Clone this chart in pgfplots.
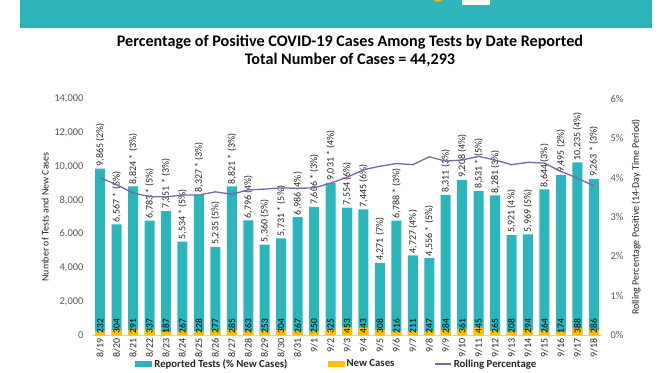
\documentclass[border=0pt]{standalone}
\usepackage{pgfplots}
\pgfplotsset{compat=1.18}
\usepackage{pgfplotstable}
\usepackage{fontspec}
\setmainfont{Carlito}
\definecolor{teal1}{HTML}{2DB5BB}
\definecolor{gold1}{HTML}{FFC000}
\definecolor{purp}{HTML}{8064A2}
\definecolor{txt}{HTML}{262626}
\definecolor{tickc}{HTML}{595959}

\pgfplotstableread[col sep=semicolon]{
x;tests;new;lab
0;9865;232;9,865 (2\%)
1;6567;304;6,567 * (5\%)
2;8824;291;8,824 * (3\%)
3;6783;337;6,783 * (5\%)
4;7351;187;7,351 * (3\%)
5;5534;267;5,534 * (5\%)
6;8327;228;8,327 * (3\%)
7;5235;277;5,235 (5\%)
8;8821;285;8,821 * (3\%)
9;6796;263;6,796 (4\%)
10;5360;253;5,360 (5\%)
11;5731;304;5,731 * (5\%)
12;6986;267;6,986 (4\%)
13;7606;250;7,606 * (3\%)
14;9031;325;9,031 * (4\%)
15;7554;453;7,554 (6\%)
16;7445;443;7,445 (6\%)
17;4271;308;4,271 (7\%)
18;6788;216;6,788 * (3\%)
19;4727;211;4,727 (4\%)
20;4556;247;4,556 * (5\%)
21;8311;284;8,311 (3\%)
22;9208;361;9,208 (4\%)
23;8531;445;8,531 * (5\%)
24;8281;265;8,281 (3\%)
25;5921;208;5,921 (4\%)
26;5969;294;5,969 (5\%)
27;8644;264;8,644 (3\%)
28;9495;174;9,495 (2\%)
29;10235;388;10,235 (4\%)
30;9263;286;9,263 * (3\%)
}\datatable

\pgfplotstableread{
x roll
0 4.00
1 3.82
2 3.61
3 3.52
4 3.51
5 3.56
6 3.56
7 3.64
8 3.58
9 3.69
10 3.71
11 3.74
12 3.73
13 3.74
14 3.86
15 4.01
16 4.20
17 4.29
18 4.36
19 4.33
20 4.53
21 4.42
22 4.45
23 4.54
24 4.45
25 4.33
26 4.39
27 4.37
28 4.16
29 3.99
30 3.79
}\rolltable

\begin{document}
\begin{tikzpicture}[x=1bp,y=1bp]
\useasboundingbox (0,0) rectangle (672,372);
\begin{scope}
\clip (0,0) rectangle (672,372);
\fill[teal1] (20,344) rectangle (652,372);
\fill[gold1!75!brown] (438,376) circle (6);
\fill[white] (462,372) rectangle (490,367);
\end{scope}
\node[font=\fontsize{16.2}{19}\selectfont\bfseries, text=black] at (350,330) {Percentage of Positive COVID-19 Cases Among Tests by Date Reported};
\node[font=\fontsize{16.2}{19}\selectfont\bfseries, text=black] at (350,312) {Total Number of Cases = 44,293};

\begin{axis}[
  at={(92bp,37bp)}, anchor=south west,
  scale only axis, width=510bp, height=236bp,
  xmin=-0.5, xmax=30.5, ymin=0, ymax=14000,
  clip=false,
  axis lines*=left,
  x axis line style={draw=gray!35, line width=0.8bp},
  y axis line style={draw=none},
  tick style={draw=none},
  xtick={0,...,30},
  xticklabels={8/19,8/20,8/21,8/22,8/23,8/24,8/25,8/26,8/27,8/28,8/29,8/30,8/31,9/1,9/2,9/3,9/4,9/5,9/6,9/7,9/8,9/9,9/10,9/11,9/12,9/13,9/14,9/15,9/16,9/17,9/18},
  xticklabel style={rotate=90, anchor=east, font=\fontsize{10}{12}\selectfont, text=txt},
  ytick={0,2000,...,14000},
  scaled y ticks=false,
  /pgf/number format/assume math mode=true,
  /pgf/number format/1000 sep={,},
  yticklabel style={font=\fontsize{10.5}{12}\selectfont, text=tickc, xshift=-5bp},
  ylabel={Number of Tests and New Cases},
  ylabel style={at={(axis description cs:-0.092,0.5)}, anchor=center, font=\fontsize{10}{12}\selectfont, text=txt},
  legend style={at={(axis description cs:0.48,-0.123)}, anchor=center, draw=none, fill=none,
     legend columns=3, font=\fontsize{10.8}{12}\selectfont\bfseries, text=txt,
     /tikz/every even column/.append style={column sep=38bp}},
]
\addplot[ybar, bar width=10bp, bar shift=0pt, fill=teal1, draw=none,
  nodes near coords, point meta=explicit symbolic,
  every node near coord/.style={rotate=90, anchor=west, font=\fontsize{10}{12}\selectfont, text=txt, inner sep=2bp},
  legend image code/.code={\fill[teal1] (0bp,-3bp) rectangle (17bp,3bp);}]
  table[x=x, y=tests, meta=lab] {\datatable};
\addlegendentry{Reported Tests (\% New Cases)}
\addplot[ybar, bar width=10bp, bar shift=0pt, fill=gold1, draw=none,
  legend image code/.code={\fill[gold1] (0bp,-3bp) rectangle (17bp,3bp);}]
  table[x=x, y=new] {\datatable};
\addlegendentry{New Cases}
\addplot[draw=none, mark=none, forget plot,
  nodes near coords, point meta=explicit symbolic,
  every node near coord/.style={rotate=90, anchor=west, font=\fontsize{9.5}{11}\selectfont, text=black, inner sep=1.5bp}]
  table[x=x, y expr=0, meta=new] {\datatable};
\addlegendimage{purp, line width=1.3bp, legend image code/.code={\draw[purp, line width=1.3bp] (0bp,0bp) -- (16bp,0bp);}}
\addlegendentry{Rolling Percentage}
\end{axis}

\begin{axis}[
  at={(92bp,37bp)}, anchor=south west,
  scale only axis, width=510bp, height=236bp,
  xmin=-0.5, xmax=30.5, ymin=0, ymax=6,
  axis y line*=right, axis x line=none,
  y axis line style={draw=none},
  tick style={draw=none},
  ytick={0,...,6},
  yticklabel={\pgfmathprintnumber{\tick}\%},
  /pgf/number format/assume math mode=true,
  yticklabel style={font=\fontsize{10.5}{12}\selectfont, text=tickc, xshift=5bp},
  ylabel={Rolling Percentage Positive (14-Day Time Period)},
  ylabel style={at={(axis description cs:1.067,0.5)}, anchor=center, rotate=0, font=\fontsize{10}{12}\selectfont, text=txt},
]
\addplot[purp, line width=1.3bp, mark=none] table[x=x, y=roll] {\rolltable};
\end{axis}
\end{tikzpicture}
\end{document}
